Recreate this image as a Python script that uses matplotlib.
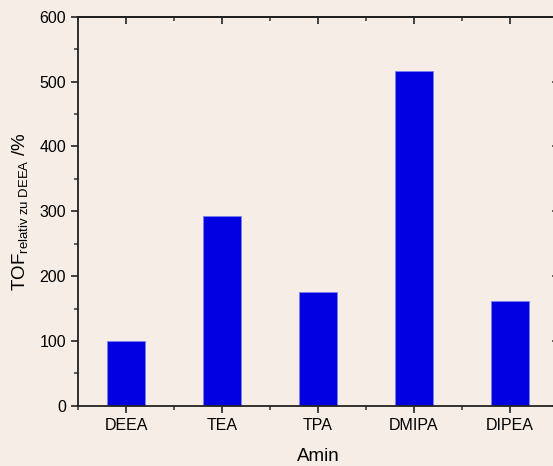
import matplotlib.pyplot as plt
from matplotlib.ticker import MultipleLocator

plt.rcParams['font.family'] = ['Liberation Sans', 'DejaVu Sans']
plt.rcParams['mathtext.fontset'] = 'custom'
plt.rcParams['mathtext.rm'] = 'Liberation Sans'
plt.rcParams['mathtext.it'] = 'Liberation Sans:italic'

amine = ["DEEA", "TEA", "TPA", "DMIPA", "DIPEA"]
tof_rel = [100, 293, 176, 517, 162]

bg = '#f5ede6'
fig = plt.figure(figsize=(5.53, 4.66), dpi=100, facecolor=bg)
ax = fig.add_axes([0.141, 0.129, 0.868, 0.835], facecolor=bg)

x = list(range(len(amine)))
ax.bar(x, tof_rel, width=0.4, color='#0000e0', edgecolor='#7f7ff0', linewidth=0.6, zorder=2)

ax.set_xlim(-0.5, 4.5)
ax.set_ylim(0, 600)
ax.set_xticks(x)
ax.set_xticklabels(amine)
ax.set_xticks([i + 0.5 for i in range(-1, 5)], minor=True)
ax.yaxis.set_major_locator(MultipleLocator(100))
ax.yaxis.set_minor_locator(MultipleLocator(50))

for s in ax.spines.values():
    s.set_linewidth(1.3)
    s.set_color('#222222')

ax.tick_params(axis='both', which='major', labelsize=11.5, length=5, width=1.3,
               color='#333333', direction='out')
ax.tick_params(axis='both', which='minor', length=3, width=1.1, color='#333333',
               direction='out')

# top and right axes: ticks pointing inwards, no labels
top = ax.secondary_xaxis('top')
top.set_xticks(x)
top.set_xticks([i + 0.5 for i in range(-1, 5)], minor=True)
top.tick_params(which='major', direction='in', length=5, width=1.3, color='#333333',
                labeltop=False)
top.tick_params(which='minor', direction='in', length=3, width=1.1, color='#333333')
top.spines['top'].set_linewidth(1.3)

right = ax.secondary_yaxis('right')
right.yaxis.set_major_locator(MultipleLocator(100))
right.tick_params(which='major', direction='in', length=4, width=1.1, color='#333333',
                  labelright=False)
right.tick_params(which='minor', right=False)

ax.set_xlabel('Amin', fontsize=13.5, labelpad=11)
ax.set_ylabel(r'TOF$_{\mathrm{relativ\ zu\ DEEA}}$ /%', fontsize=13.5, labelpad=7)

fig.savefig('out.png', dpi=100, facecolor=bg)
